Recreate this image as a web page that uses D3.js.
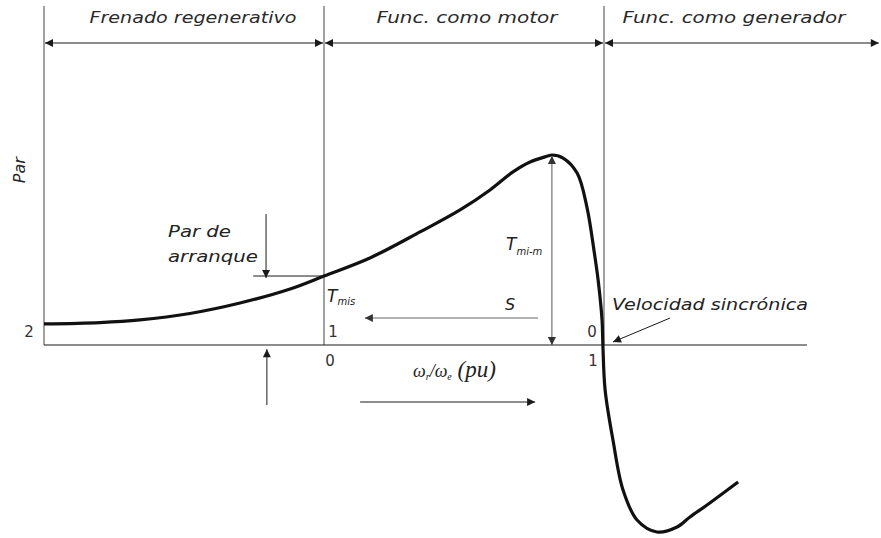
<!DOCTYPE html>
<html>
<head>
<meta charset="utf-8">
<script src="https://cdn.jsdelivr.net/npm/d3@7"></script>
<style>
  body { margin: 0; background: #fff; }
  svg { display: block; }
</style>
</head>
<body>
<svg id="chart" width="881" height="538"></svg>
<script>
// Torque–speed characteristic of an induction machine (speed in pu, torque relative to T_mi-m)
const speed  = [-1.000, -0.800, -0.657, -0.479, -0.300, -0.121, 0.000, 0.164, 0.343, 0.486, 0.593,
                 0.675,  0.736,  0.796,  0.814,  0.854,  0.904, 0.939, 0.964, 0.979, 0.993, 0.996,
                 1.004,  1.032,  1.068,  1.118,  1.189,  1.261, 1.307, 1.368, 1.479];
const torque = [ 0.111,  0.118,  0.132,  0.166,  0.221,  0.295, 0.363, 0.458, 0.595, 0.711, 0.816,
                 0.911,  0.963,  0.993,  1.000,  0.984,  0.905, 0.726, 0.500, 0.342, 0.132, 0.000,
                -0.237, -0.500, -0.763, -0.921, -0.984, -0.958, -0.905, -0.842, -0.721];

// Operating regions and their speed limits
const regionNames = ["Frenado regenerativo", "Func. como motor", "Func. como generador"];
const regionEdges = [-1, 0, 1, 1.985];

// Tick labels: rotor speed below the axis, slip above it
const speedTicks = [0, 1];
const slipTicks  = [2, 1, 0];

// Key points of the characteristic
const startTorque = 0.363;   // T_mis at standstill
const peakSpeed   = 0.814;   // speed at maximum torque
const peakTorque  = 1.000;   // T_mi-m

const svg = d3.select("#chart");

const x = d3.scaleLinear().domain([-1, 1]).range([44, 604]);
const y = d3.scaleLinear().domain([0, 1]).range([345, 155]);

const SANS = "'DejaVu Sans', sans-serif";
const INK = "#1a1a1a";

// Arrowhead markers
const defs = svg.append("defs");
function marker(id, color) {
  defs.append("marker")
    .attr("id", id)
    .attr("viewBox", "0 0 10 10")
    .attr("refX", 10).attr("refY", 5)
    .attr("markerWidth", 10).attr("markerHeight", 8)
    .attr("markerUnits", "userSpaceOnUse")
    .attr("orient", "auto-start-reverse")
    .append("path")
    .attr("d", "M0,0 L10,5 L0,10 Z")
    .attr("fill", color);
}
marker("ah", INK);
marker("ahg", "#333");

function arrow(x1, y1, x2, y2, opts = {}) {
  const l = svg.append("line")
    .attr("x1", x1).attr("y1", y1).attr("x2", x2).attr("y2", y2)
    .attr("stroke", opts.color || INK)
    .attr("stroke-width", opts.width || 1)
    .attr("marker-end", "url(#" + (opts.marker || "ah") + ")");
  if (opts.both) l.attr("marker-start", "url(#" + (opts.marker || "ah") + ")");
  return l;
}

function label(str, px, py, size, opts = {}) {
  const t = svg.append("text")
    .attr("x", px).attr("y", py)
    .attr("font-family", opts.family || SANS)
    .attr("font-size", size)
    .attr("font-style", opts.style || "oblique")
    .attr("fill", opts.fill || "#222")
    .attr("text-anchor", opts.anchor || "start")
    .text(str);
  if (opts.len) t.attr("textLength", opts.len).attr("lengthAdjust", "spacingAndGlyphs");
  return t;
}

// Region boundaries (vertical guides)
regionEdges.slice(0, 3).forEach(v => {
  svg.append("line")
    .attr("x1", x(v)).attr("x2", x(v))
    .attr("y1", 6).attr("y2", y(0))
    .attr("stroke", "#444").attr("stroke-width", 1);
});

// Region extent arrows and titles
const regionTextLen = [207, 181, 223];
regionNames.forEach((name, i) => {
  const a = x(regionEdges[i]) + 1, b = x(regionEdges[i + 1]) - 1;
  arrow(a, 43, b, 43, { both: true });
  label(name, (x(regionEdges[i]) + x(regionEdges[i + 1])) / 2 + (i === 2 ? -8 : (i === 0 ? 9 : 3)), 23, 15,
        { anchor: "middle", len: regionTextLen[i], fill: "#2a2a2a" });
});

// Horizontal speed axis
svg.append("line")
  .attr("x1", x(-1)).attr("x2", x(1.725))
  .attr("y1", y(0)).attr("y2", y(0))
  .attr("stroke", INK).attr("stroke-width", 1.2);

// Vertical axis title
svg.append("text")
  .attr("transform", `translate(25,${y(0.92)}) rotate(-90)`)
  .attr("font-family", SANS).attr("font-size", 15).attr("font-style", "oblique")
  .attr("fill", "#222").attr("text-anchor", "middle")
  .attr("textLength", 26).attr("lengthAdjust", "spacingAndGlyphs")
  .text("Par");

// Speed tick labels (below the axis)
speedTicks.forEach(v => {
  label(String(v), x(v) + (v === 0 ? 6 : -11), y(0) + 21, 15, { style: "normal", fill: "#333", anchor: "middle" });
});
// Slip tick labels (above the axis); slip s corresponds to speed 1 - s
slipTicks.forEach(s => {
  const v = 1 - s;
  const dx = s === 2 ? -15 : (s === 1 ? 9 : -12);
  label(String(s), x(v) + dx, y(0) - 8, 15, { style: "normal", fill: "#333", anchor: "middle" });
});

// Torque–speed curve
const pts = speed.map((s, i) => [s, torque[i]]);
svg.append("path")
  .datum(pts)
  .attr("fill", "none")
  .attr("stroke", "#111")
  .attr("stroke-width", 3.2)
  .attr("stroke-linejoin", "round")
  .attr("stroke-linecap", "butt")
  .attr("d", d3.line().x(d => x(d[0])).y(d => y(d[1])).curve(d3.curveCatmullRom.alpha(0.5)));

// Starting torque marker line and label
svg.append("line")
  .attr("x1", x(-0.253)).attr("x2", x(0))
  .attr("y1", y(startTorque)).attr("y2", y(startTorque))
  .attr("stroke", INK).attr("stroke-width", 1);
arrow(x(-0.207), y(0.689), x(-0.207), y(startTorque) + 2);
label("Par de", 168, 237, 15, { len: 63 });
label("arranque", 168, 262, 15, { len: 90 });

const tmis = label("T", x(0) + 3, y(startTorque) + 26, 17, { fill: "#222" });
tmis.append("tspan").attr("font-size", 10).attr("dy", 3).text("mis");

// Maximum torque arrow and label
arrow(x(peakSpeed), y(0), x(peakSpeed), y(peakTorque) + 1, { both: true, color: "#555", marker: "ahg" });
const tmax = label("T", 506, 250, 17, { fill: "#222" });
tmax.append("tspan").attr("font-size", 10).attr("dy", 5).text("mi-m");

// Slip direction arrow
arrow(x(0.764), y(0.142), x(0.146), y(0.142), { color: "#666", marker: "ahg" });
label("S", 510, 310, 16, { anchor: "middle", fill: "#222" });

// Synchronous speed pointer
arrow(x(1.236), y(0.142), x(1.032), y(0.016));
label("Velocidad sincrónica", 612, 310, 15, { len: 196 });

// Speed axis title and direction arrow
const ax = svg.append("text")
  .attr("x", 413).attr("y", 377)
  .attr("font-family", "'Liberation Serif', serif")
  .attr("font-style", "italic").attr("font-size", 23).attr("fill", "#222");
ax.append("tspan").attr("font-size", 18).text("ω");
ax.append("tspan").attr("font-size", 10).attr("dy", 3).text("r");
ax.append("tspan").attr("font-size", 18).attr("dy", -3).text("/ω");
ax.append("tspan").attr("font-size", 10).attr("dy", 3).text("e");
ax.append("tspan").attr("dy", -3).text(" (pu)");

arrow(x(0.129), y(-0.3), x(0.754), y(-0.3));

// Upward pointer below the starting point
arrow(x(-0.204), y(-0.316), x(-0.204), y(-0.022));
</script>
</body>
</html>
